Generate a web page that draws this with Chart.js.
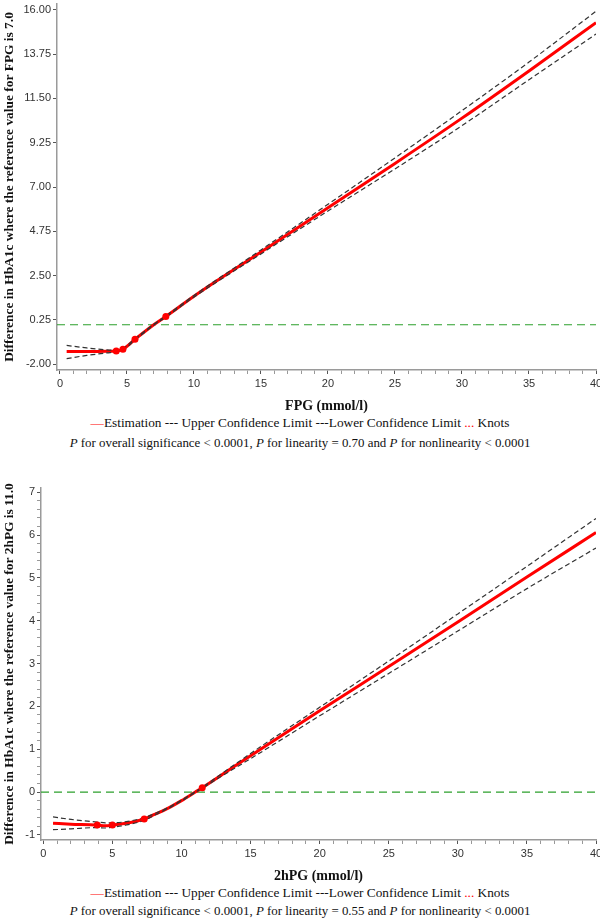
<!DOCTYPE html>
<html>
<head>
<meta charset="utf-8">
<script src="https://cdn.jsdelivr.net/npm/chart.js@4.4.1/dist/chart.umd.min.js"></script>
<style>
  html, body { margin: 0; padding: 0; background: #fff; }
  #page { position: relative; width: 600px; height: 920px; overflow: hidden; }
  canvas { position: absolute; left: 0; }
  .note {
    position: absolute; left: 0; width: 600px; text-align: center;
    font-family: "Liberation Serif", "Times New Roman", serif; font-size: 13.3px;
    line-height: 16px; color: #111; white-space: nowrap;
  }
  .note.p { font-size: 12.9px; }
  .red { color: #ff0000; }
</style>
</head>
<body>
<div id="page">
  <canvas id="chart-fpg" width="600" height="415" style="top:0"></canvas>
  <div class="note" style="top:415px"><span class="red">—</span>Estimation --- Upper Confidence Limit ---Lower Confidence Limit <span class="red">...</span> Knots</div>
  <div class="note p" style="top:435px"><i>P</i> for overall significance &lt; 0.0001, <i>P</i> for linearity = 0.70 and <i>P</i> for nonlinearity &lt; 0.0001</div>

  <canvas id="chart-hpg" width="600" height="405" style="top:480px"></canvas>
  <div class="note" style="top:885px"><span class="red">—</span>Estimation --- Upper Confidence Limit ---Lower Confidence Limit <span class="red">...</span> Knots</div>
  <div class="note p" style="top:903px"><i>P</i> for overall significance &lt; 0.0001, <i>P</i> for linearity = 0.55 and <i>P</i> for nonlinearity &lt; 0.0001</div>
</div>
<script>
  'use strict';

  // FPG panel
  var fpgX = [0.5, 2, 3.5, 4.2, 4.7, 5.6, 7, 7.9, 10, 15, 20, 25, 30, 35, 40];
  var fpgEst = [-1.36, -1.36, -1.35, -1.33, -1.24, -0.74, 0, 0.42, 1.45, 3.7, 5.95, 8.2, 10.5, 12.9, 15.35];
  var fpgUpper = [-1.05, -1.18, -1.28, -1.3, -1.2, -0.71, 0.02, 0.45, 1.49, 3.8, 6.12, 8.48, 10.88, 13.35, 15.93];
  var fpgLower = [-1.72, -1.56, -1.43, -1.38, -1.28, -0.78, -0.02, 0.39, 1.41, 3.6, 5.78, 7.92, 10.12, 12.45, 14.77];
  var fpgKnotX = [4.2, 4.7, 5.6, 7.9];
  var fpgKnotY = [-1.33, -1.24, -0.74, 0.42];
  var fpgYTicks = [-2, 0.25, 2.5, 4.75, 7, 9.25, 11.5, 13.75, 16];

  // 2hPG panel
  var hpgX = [0.7, 2, 3.9, 4.5, 5, 6, 7.3, 8, 9, 10, 11, 11.5, 13, 15, 20, 25, 30, 35, 40];
  var hpgEst = [-0.73, -0.75, -0.77, -0.79, -0.77, -0.73, -0.63, -0.53, -0.38, -0.2, 0, 0.1, 0.42, 0.85, 1.9, 2.93, 3.97, 5.02, 6.06];
  var hpgUpper = [-0.58, -0.64, -0.7, -0.72, -0.72, -0.69, -0.6, -0.51, -0.37, -0.19, 0.01, 0.11, 0.45, 0.9, 1.98, 3.06, 4.16, 5.27, 6.39];
  var hpgLower = [-0.88, -0.86, -0.83, -0.84, -0.82, -0.77, -0.66, -0.55, -0.39, -0.21, -0.01, 0.09, 0.39, 0.78, 1.78, 2.77, 3.76, 4.75, 5.7];
  var hpgKnotX = [3.9, 5.0, 7.3, 11.5];
  var hpgKnotY = [-0.77, -0.77, -0.63, 0.1];
  var hpgYTicks = [-1, 0, 1, 2, 3, 4, 5, 6, 7];

  var xTicks = [0, 5, 10, 15, 20, 25, 30, 35, 40];
  var refValue = 0;

  var sans = '"Liberation Sans", Arial, sans-serif';
  var serif = '"Liberation Serif", "Times New Roman", serif';

  function pts(xs, ys) {
    return xs.map(function (x, i) {
      return { x: x, y: ys[i] };
    });
  }

  // major ticks with `n` minor steps between each pair
  function withMinor(major, n) {
    var out = [];
    for (var i = 0; i < major.length; i++) {
      out.push(major[i]);
      if (i < major.length - 1) {
        var step = (major[i + 1] - major[i]) / (n + 1);
        for (var k = 1; k <= n; k++) out.push(major[i] + k * step);
      }
    }
    return out;
  }

  function isMajor(list, v) {
    return list.some(function (m) {
      return Math.abs(m - v) < 1e-6;
    });
  }

  var refLine = {
    id: 'refLine',
    beforeDatasetsDraw: function (chart) {
      var a = chart.chartArea;
      var y = chart.scales.y.getPixelForValue(refValue);
      var ctx = chart.ctx;
      ctx.save();
      ctx.strokeStyle = '#2ca02c';
      ctx.lineWidth = 1.2;
      ctx.setLineDash([8, 5]);
      ctx.beginPath();
      ctx.moveTo(a.left, y);
      ctx.lineTo(a.right, y);
      ctx.stroke();
      ctx.restore();
    },
  };

  function tickColor(c) {
    return c.tick && c.tick.label !== '' ? '#555' : '#999';
  }

  function build(id, cfg) {
    var yAll = withMinor(cfg.yTicks, cfg.yMinor);
    var xAll = withMinor(xTicks, 4);
    return new Chart(document.getElementById(id), {
      type: 'scatter',
      data: {
        datasets: [
          {
            label: 'Knots',
            data: pts(cfg.knotX, cfg.knotY),
            pointRadius: 3.5,
            pointBackgroundColor: '#ff0000',
            pointBorderWidth: 0,
            showLine: false,
            order: 0,
          },
          {
            label: 'Upper Confidence Limit',
            data: pts(cfg.x, cfg.upper),
            showLine: true,
            borderColor: '#333',
            borderWidth: 1.2,
            borderDash: [5, 3],
            pointRadius: 0,
            cubicInterpolationMode: 'monotone',
            order: 1,
          },
          {
            label: 'Lower Confidence Limit',
            data: pts(cfg.x, cfg.lower),
            showLine: true,
            borderColor: '#333',
            borderWidth: 1.2,
            borderDash: [5, 3],
            pointRadius: 0,
            cubicInterpolationMode: 'monotone',
            order: 1,
          },
          {
            label: 'Estimation',
            data: pts(cfg.x, cfg.est),
            showLine: true,
            borderColor: '#ff0000',
            borderWidth: 3,
            pointRadius: 0,
            cubicInterpolationMode: 'monotone',
            order: 2,
          },
        ],
      },
      options: {
        responsive: false,
        animation: false,
        devicePixelRatio: 1,
        layout: { padding: { top: cfg.padTop, right: 4, left: 0, bottom: 0 } },
        plugins: { legend: { display: false }, tooltip: { enabled: false } },
        scales: {
          x: {
            type: 'linear',
            min: cfg.xMin,
            max: 40,
            afterFit: function (s) {
              s.height = 45;
              s.paddingLeft = 0;
              s.paddingRight = 0;
            },
            afterBuildTicks: function (s) {
              s.ticks = xAll.map(function (v) {
                return { value: v };
              });
            },
            ticks: {
              autoSkip: false,
              maxRotation: 0,
              padding: 3,
              color: '#333',
              font: { family: sans, size: 11 },
              callback: function (v) {
                return isMajor(xTicks, v) ? String(Math.round(v)) : '';
              },
            },
            grid: { drawOnChartArea: false, tickLength: 4, tickColor: tickColor },
            border: { display: true, color: '#9a9a9a', width: 1.5 },
            title: {
              display: true,
              text: cfg.xTitle,
              color: '#111',
              font: { family: serif, size: 14, weight: 'bold' },
              padding: { top: 0, bottom: 0 },
            },
          },
          y: {
            type: 'linear',
            min: cfg.yMin,
            max: cfg.yMax,
            afterFit: function (s) {
              s.width = cfg.axisW;
              s.paddingTop = 0;
              s.paddingBottom = 0;
            },
            afterBuildTicks: function (s) {
              s.ticks = yAll.map(function (v) {
                return { value: v };
              });
            },
            ticks: {
              autoSkip: false,
              padding: 2,
              color: '#333',
              font: { family: sans, size: 11 },
              callback: function (v) {
                return isMajor(cfg.yTicks, v) ? v.toFixed(cfg.digits) : '';
              },
            },
            grid: { drawOnChartArea: false, tickLength: 4, tickColor: tickColor },
            border: { display: true, color: '#9a9a9a', width: 1.5 },
            title: {
              display: true,
              text: cfg.yTitle,
              color: '#111',
              font: { family: serif, size: 13.4, weight: 'bold' },
              padding: { top: 2, bottom: 0 },
            },
          },
        },
      },
      plugins: [refLine],
    });
  }

  build('chart-fpg', {
    x: fpgX, est: fpgEst, upper: fpgUpper, lower: fpgLower,
    knotX: fpgKnotX, knotY: fpgKnotY,
    yTicks: fpgYTicks, yMinor: 0, digits: 2,
    yMin: -2.3, yMax: 16.3, xMin: -0.22, axisW: 57, padTop: 0,
    xTitle: 'FPG (mmol/l)',
    yTitle: 'Difference in HbA1c where the reference value for FPG is 7.0',
  });

  build('chart-hpg', {
    x: hpgX, est: hpgEst, upper: hpgUpper, lower: hpgLower,
    knotX: hpgKnotX, knotY: hpgKnotY,
    yTicks: hpgYTicks, yMinor: 4, digits: 0,
    yMin: -1.12, yMax: 7.1, xMin: -0.17, axisW: 41, padTop: 8,
    xTitle: '2hPG (mmol/l)',
    yTitle: 'Difference in HbA1c where the reference value for 2hPG is 11.0',
  });
</script>
</body>
</html>
